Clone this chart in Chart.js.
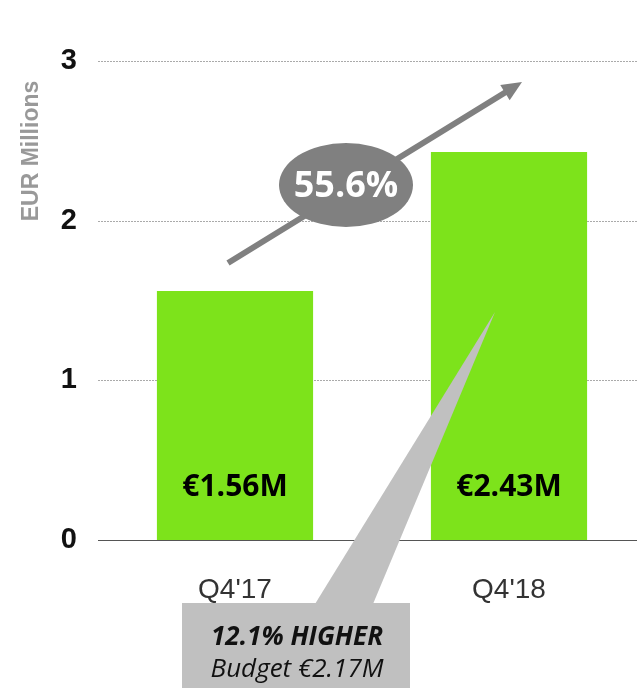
<!DOCTYPE html>
<html>
<head>
<meta charset="utf-8">
<script src="https://cdn.jsdelivr.net/npm/chart.js@4.4.1/dist/chart.umd.min.js"></script>
<style>
  html, body { margin: 0; padding: 0; background: #fff; overflow: hidden; }
  #wrap { width: 646px; height: 688px; }
</style>
</head>
<body>
<div id="wrap"><canvas id="chart" width="646" height="688"></canvas></div>
<script>
// dati del grafico
const categorie = ["Q4'17", "Q4'18"];
const ricavi = [1.56, 2.43];
const etichetteBarre = ['€1.56M', '€2.43M'];
const tickY = [0, 1, 2, 3];
const crescita = '55.6%';
const notaRiga1 = '12.1% HIGHER';
const notaRiga2 = 'Budget €2.17M';

const verde = '#7de31b';

// griglia: tratteggiata per 1..3, linea piena per lo zero
const grigliaPlugin = {
  id: 'griglia',
  beforeDatasetsDraw(chart) {
    const { ctx, chartArea, scales: { y } } = chart;
    ctx.save();
    tickY.forEach(v => {
      const py = Math.round(y.getPixelForValue(v)) + 0.5;
      ctx.beginPath();
      if (v === 0) {
        ctx.setLineDash([]);
        ctx.strokeStyle = '#555';
      } else {
        ctx.setLineDash([2, 1]);
        ctx.strokeStyle = '#aaa';
      }
      ctx.lineWidth = 1;
      ctx.moveTo(chartArea.left, py);
      ctx.lineTo(chartArea.right, py);
      ctx.stroke();
    });
    ctx.restore();
  }
};

// etichette dentro le barre, freccia, ellisse e nota
const annotazioniPlugin = {
  id: 'annotazioni',
  afterDatasetsDraw(chart) {
    const { ctx, scales: { x, y } } = chart;
    const meta = chart.getDatasetMeta(0);
    ctx.save();

    // etichette valori
    ctx.fillStyle = '#000';
    ctx.font = 'bold 30px "Open Sans", sans-serif';
    ctx.textAlign = 'center';
    ctx.textBaseline = 'middle';
    meta.data.forEach((bar, i) => {
      ctx.fillText(etichetteBarre[i], bar.x, y.getPixelForValue(0.33));
    });

    // titolo asse Y
    ctx.save();
    ctx.translate(32, 151);
    ctx.rotate(-Math.PI / 2);
    ctx.fillStyle = '#999';
    ctx.font = 'bold 23px "Liberation Sans", Arial, sans-serif';
    ctx.fillText('EUR Millions', 0, 0);
    ctx.restore();

    // freccia di crescita
    const x0 = x.getPixelForValue(0), x1 = x.getPixelForValue(1);
    const sx = x0 - 7, sy = y.getPixelForValue(1.735);
    const ex = x1 + 13, ey = y.getPixelForValue(2.868);
    const ang = Math.atan2(ey - sy, ex - sx);
    const testa = 20;
    ctx.strokeStyle = '#808080';
    ctx.fillStyle = '#808080';
    ctx.lineWidth = 6;
    ctx.beginPath();
    ctx.moveTo(sx, sy);
    ctx.lineTo(ex - Math.cos(ang) * testa * 0.8, ey - Math.sin(ang) * testa * 0.8);
    ctx.stroke();
    ctx.beginPath();
    ctx.moveTo(ex, ey);
    ctx.lineTo(ex - Math.cos(ang) * testa + Math.sin(ang) * 9, ey - Math.sin(ang) * testa - Math.cos(ang) * 9);
    ctx.lineTo(ex - Math.cos(ang) * testa - Math.sin(ang) * 9, ey - Math.sin(ang) * testa + Math.cos(ang) * 9);
    ctx.closePath();
    ctx.fill();

    // ellisse con percentuale
    const cx = x0 + 111, cy = y.getPixelForValue(2.223);
    ctx.beginPath();
    ctx.ellipse(cx, cy, 67, 42, 0, 0, Math.PI * 2);
    ctx.fill();
    ctx.fillStyle = '#fff';
    ctx.font = 'bold 36px "Open Sans", sans-serif';
    ctx.fillText(crescita, cx, cy + 2);

    // nota budget
    const rx = 182, rTop = 603, rW = 228;
    ctx.fillStyle = '#c0c0c0';
    ctx.beginPath();
    ctx.moveTo(x1 - 14, y.getPixelForValue(1.428));
    ctx.lineTo(373, rTop + 1);
    ctx.lineTo(315, rTop + 1);
    ctx.closePath();
    ctx.fill();
    ctx.fillRect(rx, rTop, rW, chart.height - rTop);

    ctx.fillStyle = '#111';
    ctx.font = 'italic bold 26px "Open Sans", sans-serif';
    ctx.fillText(notaRiga1, rx + rW / 2 + 1, 638);
    ctx.font = 'italic 26px "Open Sans", sans-serif';
    ctx.fillText(notaRiga2, rx + rW / 2 + 1, 670);

    ctx.restore();
  }
};

new Chart(document.getElementById('chart'), {
  type: 'bar',
  data: {
    labels: categorie,
    datasets: [{
      data: ricavi,
      backgroundColor: verde,
      borderWidth: 0,
      barPercentage: 0.57,
      categoryPercentage: 1
    }]
  },
  options: {
    responsive: false,
    animation: false,
    layout: { padding: { top: 61, right: 0, bottom: 0, left: 0 } },
    plugins: {
      legend: { display: false },
      tooltip: { enabled: false }
    },
    scales: {
      x: {
        grid: { display: false },
        border: { display: false },
        ticks: {
          color: '#333',
          padding: 25,
          font: { family: '"Liberation Sans", Arial, sans-serif', size: 28 }
        },
        afterFit(scale) { scale.height = 148; }
      },
      y: {
        min: 0,
        max: 3,
        grid: { display: false, drawTicks: false },
        border: { display: false },
        ticks: {
          stepSize: 1,
          color: '#111',
          padding: 21,
          font: { family: '"Liberation Sans", Arial, sans-serif', size: 29, weight: 'bold' }
        },
        afterFit(scale) { scale.width = 98; }
      }
    }
  },
  plugins: [grigliaPlugin, annotazioniPlugin]
});
</script>
</body>
</html>
